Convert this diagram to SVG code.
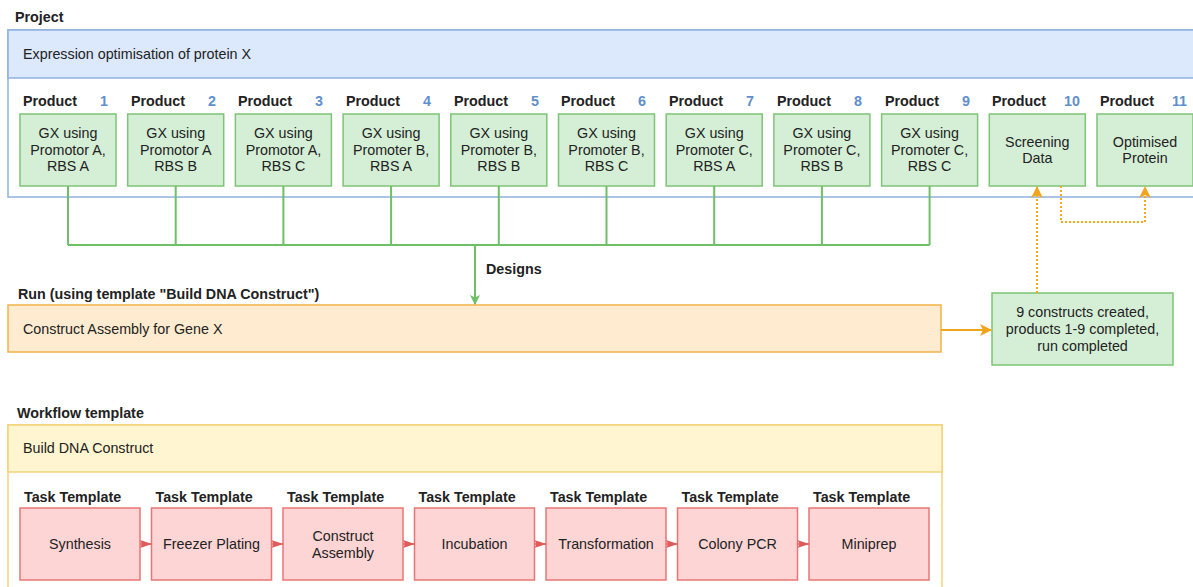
<svg xmlns="http://www.w3.org/2000/svg" width="1193" height="587" viewBox="0 0 1193 587">
<style>
text{font-family:"Liberation Sans",Arial,sans-serif;font-size:14.3px;fill:#222}
.b{font-weight:bold}
.num{font-weight:bold;fill:#5f8fcc;text-anchor:end}
.c{text-anchor:middle}
.prod{fill:#d5efd6;stroke:#7ec476;stroke-width:1.5}
.task{fill:#fdd5d5;stroke:#ea7474;stroke-width:1.5}
.green{fill:none;stroke:#6fbf66;stroke-width:2}
.orange{fill:none;stroke:#f2a51c;stroke-width:2}
.dot{fill:none;stroke:#f5aa1c;stroke-width:2;stroke-dasharray:2 2}
.red{fill:none;stroke:#e06060;stroke-width:1.5}
</style>
<defs>
<marker id="ag" markerWidth="10" markerHeight="12" refX="9" refY="6" orient="auto" markerUnits="userSpaceOnUse"><path d="M0,1 L10,6 L0,11 L2.5,6 Z" fill="#6fbf66"/></marker>
<marker id="ao" markerWidth="12" markerHeight="12" refX="11" refY="6" orient="auto" markerUnits="userSpaceOnUse"><path d="M0,0 L12,6 L0,12 L3,6 Z" fill="#f2a51c"/></marker>
<marker id="ar" markerWidth="12" markerHeight="10" refX="11.5" refY="5" orient="auto" markerUnits="userSpaceOnUse"><path d="M0,1 L12,5 L0,9 L2,5 Z" fill="#e05a5a"/></marker>
</defs>
<rect width="1193" height="587" fill="#fff"/>

<g id="project">
<text class="b" x="15" y="22">Project</text>
<rect x="8" y="30" width="1200" height="167" fill="#fff" stroke="#8fb0df" stroke-width="1.5"/>
<rect x="8" y="30" width="1200" height="48" fill="#dce9fc" stroke="#8fb0df" stroke-width="1.5"/>
<text x="23" y="59">Expression optimisation of protein X</text>
</g>

<g id="product1"><text class="b" x="23" y="106">Product</text><text class="num" x="108" y="106">1</text><rect class="prod" x="20" y="114" width="96" height="72"/><text class="c" x="68" y="138">GX using</text><text class="c" x="68" y="155">Promotor A,</text><text class="c" x="68" y="171">RBS A</text></g>
<g id="product2"><text class="b" x="131" y="106">Product</text><text class="num" x="216" y="106">2</text><rect class="prod" x="127.7" y="114" width="96" height="72"/><text class="c" x="175.7" y="138">GX using</text><text class="c" x="175.7" y="155">Promotor A</text><text class="c" x="175.7" y="171">RBS B</text></g>
<g id="product3"><text class="b" x="238" y="106">Product</text><text class="num" x="323" y="106">3</text><rect class="prod" x="235.4" y="114" width="96" height="72"/><text class="c" x="283.4" y="138">GX using</text><text class="c" x="283.4" y="155">Promotor A,</text><text class="c" x="283.4" y="171">RBS C</text></g>
<g id="product4"><text class="b" x="346" y="106">Product</text><text class="num" x="431" y="106">4</text><rect class="prod" x="343.1" y="114" width="96" height="72"/><text class="c" x="391.1" y="138">GX using</text><text class="c" x="391.1" y="155">Promoter B,</text><text class="c" x="391.1" y="171">RBS A</text></g>
<g id="product5"><text class="b" x="454" y="106">Product</text><text class="num" x="539" y="106">5</text><rect class="prod" x="450.8" y="114" width="96" height="72"/><text class="c" x="498.8" y="138">GX using</text><text class="c" x="498.8" y="155">Promoter B,</text><text class="c" x="498.8" y="171">RBS B</text></g>
<g id="product6"><text class="b" x="561" y="106">Product</text><text class="num" x="646" y="106">6</text><rect class="prod" x="558.5" y="114" width="96" height="72"/><text class="c" x="606.5" y="138">GX using</text><text class="c" x="606.5" y="155">Promoter B,</text><text class="c" x="606.5" y="171">RBS C</text></g>
<g id="product7"><text class="b" x="669" y="106">Product</text><text class="num" x="754" y="106">7</text><rect class="prod" x="666.2" y="114" width="96" height="72"/><text class="c" x="714.2" y="138">GX using</text><text class="c" x="714.2" y="155">Promoter C,</text><text class="c" x="714.2" y="171">RBS A</text></g>
<g id="product8"><text class="b" x="777" y="106">Product</text><text class="num" x="862" y="106">8</text><rect class="prod" x="773.9" y="114" width="96" height="72"/><text class="c" x="821.9" y="138">GX using</text><text class="c" x="821.9" y="155">Promoter C,</text><text class="c" x="821.9" y="171">RBS B</text></g>
<g id="product9"><text class="b" x="885" y="106">Product</text><text class="num" x="970" y="106">9</text><rect class="prod" x="881.6" y="114" width="96" height="72"/><text class="c" x="929.6" y="138">GX using</text><text class="c" x="929.6" y="155">Promoter C,</text><text class="c" x="929.6" y="171">RBS C</text></g>
<g id="product10"><text class="b" x="992" y="106">Product</text><text class="num" x="1080" y="106">10</text><rect class="prod" x="989.3" y="114" width="96" height="72"/><text class="c" x="1037.3" y="147">Screening</text><text class="c" x="1037.3" y="163">Data</text></g>
<g id="product11"><text class="b" x="1100" y="106">Product</text><text class="num" x="1187" y="106">11</text><rect class="prod" x="1097" y="114" width="96" height="72"/><text class="c" x="1145" y="147">Optimised</text><text class="c" x="1145" y="163">Protein</text></g>

<g id="run">
<text class="b" x="18" y="299">Run (using template "Build DNA Construct")</text>
<rect x="8" y="305" width="933" height="47" fill="#ffebcf" stroke="#f2b24a" stroke-width="1.5"/>
<text x="23" y="334">Construct Assembly for Gene X</text>
</g>

<g id="result">
<rect class="prod" x="992" y="293" width="181" height="72"/>
<text class="c" x="1082.5" y="317">9 constructs created,</text>
<text class="c" x="1082.5" y="334">products 1-9 completed,</text>
<text class="c" x="1082.5" y="351">run completed</text>
</g>

<g id="workflow">
<text class="b" x="17" y="418">Workflow template</text>
<rect x="8" y="425" width="934" height="170" fill="#fff" stroke="#f5d27a" stroke-width="1.5"/>
<rect x="8" y="425" width="934" height="47" fill="#fff5d0" stroke="#f5d27a" stroke-width="1.5"/>
<text x="23" y="453">Build DNA Construct</text>
</g>

<g id="task1"><text class="b" x="24" y="502">Task Template</text><rect class="task" x="20" y="508" width="120" height="72"/><text class="c" x="80" y="549">Synthesis</text></g>
<g id="task2"><text class="b" x="155.5" y="502">Task Template</text><rect class="task" x="151.5" y="508" width="120" height="72"/><text class="c" x="211.5" y="549">Freezer Plating</text></g>
<g id="task3"><text class="b" x="287" y="502">Task Template</text><rect class="task" x="283" y="508" width="120" height="72"/><text class="c" x="343" y="541">Construct</text><text class="c" x="343" y="558">Assembly</text></g>
<g id="task4"><text class="b" x="418.5" y="502">Task Template</text><rect class="task" x="414.5" y="508" width="120" height="72"/><text class="c" x="474.5" y="549">Incubation</text></g>
<g id="task5"><text class="b" x="550" y="502">Task Template</text><rect class="task" x="546" y="508" width="120" height="72"/><text class="c" x="606" y="549">Transformation</text></g>
<g id="task6"><text class="b" x="681.5" y="502">Task Template</text><rect class="task" x="677.5" y="508" width="120" height="72"/><text class="c" x="737.5" y="549">Colony PCR</text></g>
<g id="task7"><text class="b" x="813" y="502">Task Template</text><rect class="task" x="809" y="508" width="120" height="72"/><text class="c" x="869" y="549">Miniprep</text></g>

<g id="connectors">
<path class="green" d="M68,186 V245 M175.7,186 V245 M283.4,186 V245 M391.1,186 V245 M498.8,186 V245 M606.5,186 V245 M714.2,186 V245 M821.9,186 V245 M929.6,186 V245 M68,245 H929.6"/>
<path class="green" d="M475,245 V304" marker-end="url(#ag)"/>
<text class="b" x="486" y="274">Designs</text>
<path class="orange" d="M941,330 H991" marker-end="url(#ao)"/>
<path class="dot" d="M1037,293 V187" marker-end="url(#ao)"/>
<path class="dot" d="M1061,186 V222 H1145 V187" marker-end="url(#ao)"/>
<path class="red" d="M140,544 H151.5" marker-end="url(#ar)"/>
<path class="red" d="M271.5,544 H283" marker-end="url(#ar)"/>
<path class="red" d="M403,544 H414.5" marker-end="url(#ar)"/>
<path class="red" d="M534.5,544 H546" marker-end="url(#ar)"/>
<path class="red" d="M666,544 H677.5" marker-end="url(#ar)"/>
<path class="red" d="M797.5,544 H809" marker-end="url(#ar)"/>
</g>
</svg>
